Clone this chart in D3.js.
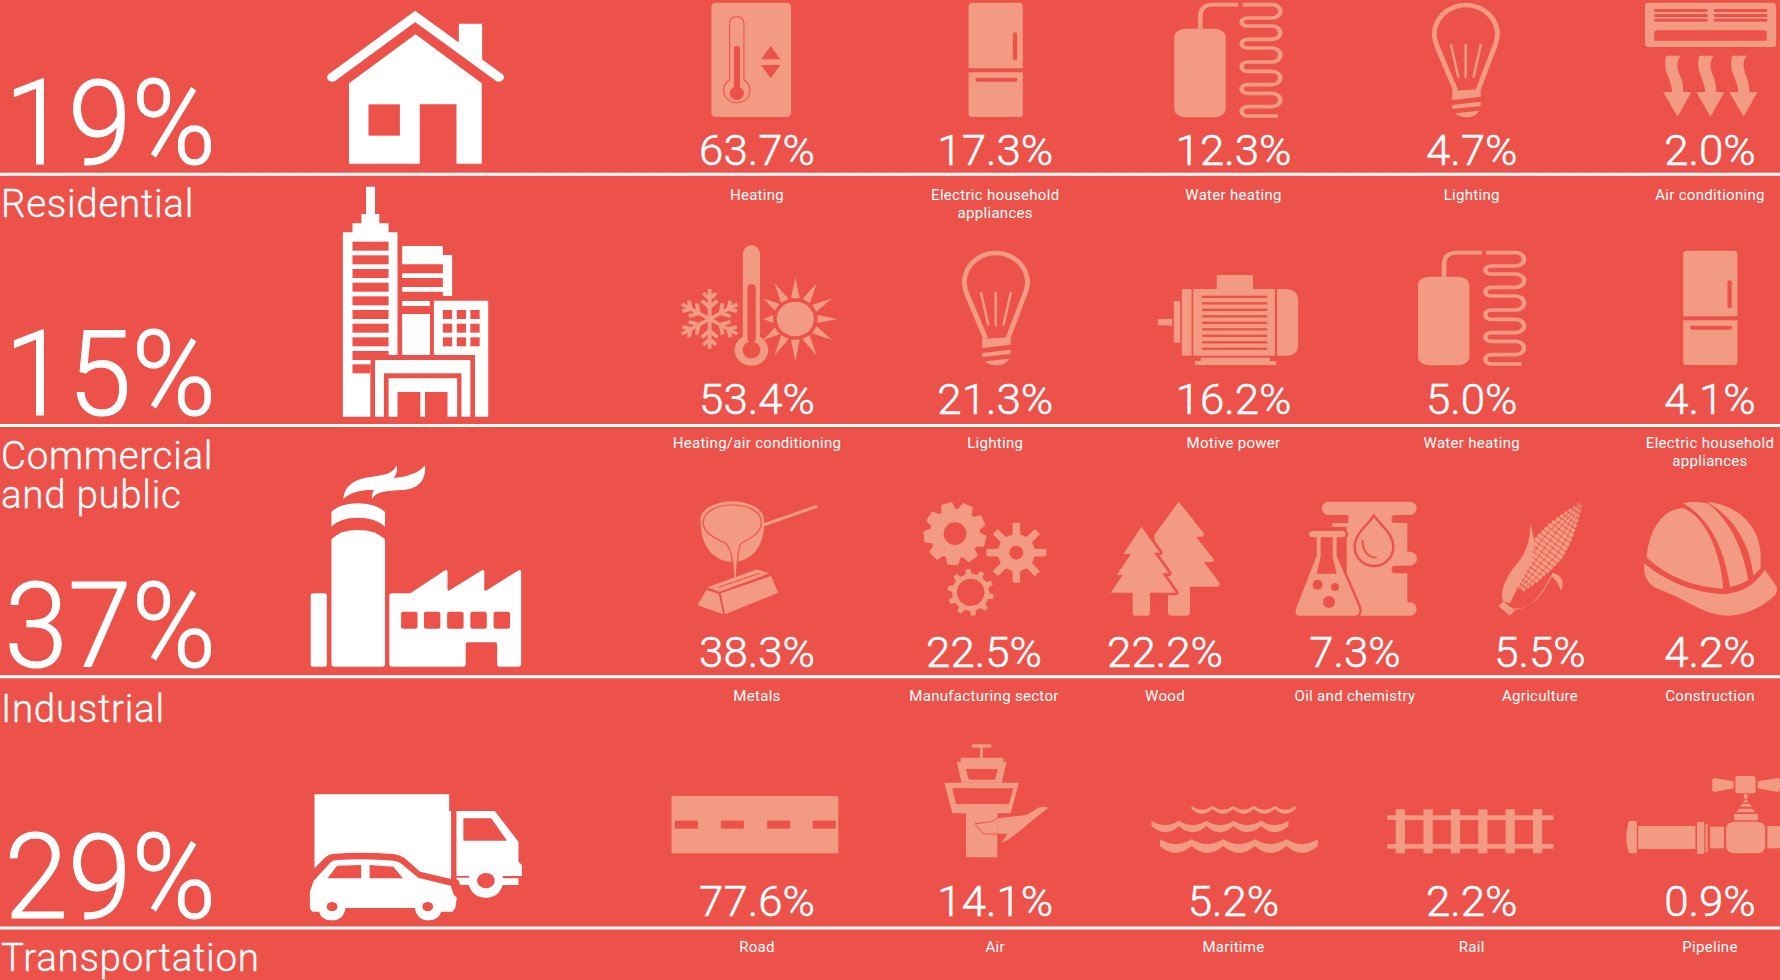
<!DOCTYPE html>
<html>
<head>
<meta charset="utf-8">
<script src="https://cdn.jsdelivr.net/npm/d3@7"></script>
<style>
  body { margin: 0; background: #ec5249; overflow: hidden; }
  text { fill: #fff; font-family: Roboto, sans-serif; }
  .share { font-weight: 300; font-size: 118px; stroke: #fff; stroke-width: 1.2px; }
  .category { font-weight: 300; font-size: 38.5px; letter-spacing: .7px; stroke: #fff; stroke-width: .3px; }
  .value { font-weight: 300; font-size: 43px; stroke: #fff; stroke-width: .5px; }
  .label { font-weight: 400; font-size: 15px; letter-spacing: .3px; }
  .icon { fill: currentColor; }
  .icon .cut { fill: #ec5249; }
  .icon .ln { fill: none; stroke: currentColor; }
  .icon .cutln { fill: none; stroke: #ec5249; }
  .icon .edge { stroke: #ec5249; }
</style>
</head>
<body>
<svg id="chart" width="1780" height="980"></svg>
<script>
const categories = ['Residential', 'Commercial and public', 'Industrial', 'Transportation']
const categoryShares = [19, 15, 37, 29]
const categoryLines = [['Residential'], ['Commercial', 'and public'], ['Industrial'], ['Transportation']]

const residentialLabels = ['Heating', 'Electric household appliances', 'Water heating', 'Lighting', 'Air conditioning']
const residentialValues = [63.7, 17.3, 12.3, 4.7, 2.0]
const commercialLabels = ['Heating/air conditioning', 'Lighting', 'Motive power', 'Water heating', 'Electric household appliances']
const commercialValues = [53.4, 21.3, 16.2, 5.0, 4.1]
const industrialLabels = ['Metals', 'Manufacturing sector', 'Wood', 'Oil and chemistry', 'Agriculture', 'Construction']
const industrialValues = [38.3, 22.5, 22.2, 7.3, 5.5, 4.2]
const transportLabels = ['Road', 'Air', 'Maritime', 'Rail', 'Pipeline']
const transportValues = [77.6, 14.1, 5.2, 2.2, 0.9]

const rowLabels = [residentialLabels, commercialLabels, industrialLabels, transportLabels]
const rowValues = [residentialValues, commercialValues, industrialValues, transportValues]

// layout
const ruleY = d3.scalePoint().domain(categories).range([174.2, 928])
const fiveColumns = d3.scalePoint().domain(d3.range(5)).range([757, 1710])
const sixColumns = d3.scaleOrdinal().domain(d3.range(6)).range([757, 984, 1165, 1355, 1540, 1710])
const valueOffset = [-9, -11, -10, -12]
const labelOffset = [26, 23, 24, 24]
const categoryBaseline = [[217], [469, 508], [722], [971]]

const svg = d3.select('#chart')

svg.selectAll('line.rule')
    .data(categories)
    .enter().append('line')
    .attr('class', 'rule')
    .attr('x1', 0).attr('x2', 1780)
    .attr('y1', d => ruleY(d)).attr('y2', d => ruleY(d))
    .attr('stroke', '#fff').attr('stroke-width', 3)

// big shares, right aligned
svg.selectAll('text.share')
    .data(categories)
    .enter().append('text')
    .attr('class', 'share')
    .attr('text-anchor', 'end')
    .attr('transform', d => `translate(216,${ruleY(d) - 10}) scale(.97,1)`)
    .text((d, i) => categoryShares[i] + '%')

categories.forEach((c, r) => {
    categoryLines[r].forEach((line, l) => {
        svg.append('text')
            .attr('class', 'category')
            .attr('x', 1)
            .attr('y', categoryBaseline[r][l])
            .text(line)
    })
    const col = rowValues[r].length == 6 ? sixColumns : fiveColumns
    rowValues[r].forEach((v, i) => {
        svg.append('text')
            .attr('class', 'value')
            .attr('text-anchor', 'middle')
            .attr('transform', `translate(${col(i)},${ruleY(c) + valueOffset[r]}) scale(1.02,1)`)
            .text(v.toFixed(1) + '%')
        // long labels break in two lines
        const label = rowLabels[r][i]
        const lines = label.startsWith('Electric') ? ['Electric household', 'appliances'] : [label]
        lines.forEach((t, l) => {
            svg.append('text')
                .attr('class', 'label')
                .attr('text-anchor', 'middle')
                .attr('x', col(i))
                .attr('y', ruleY(c) + labelOffset[r] + l * 18)
                .text(t)
        })
    })
})

/* icons: each one is traced in the pixel frame of a crop of the picture */
const frames = {
    a: [0, 0, 2.6133, 3],
    b: [660, 0, 2.8, 3],
    c: [1220, 0, 2.8, 3],
    d: [300, 180, 2.8, 3],
    e: [1120, 240, 2.3758, 3],
    f: [290, 450, 2.8, 3],
    g: [900, 480, 3, 3],
    h: [290, 730, 2.6133, 3],
    i: [1120, 740, 2.3758, 3],
    j: [920, 735, 3, 3]
}

function icon(frame, colour, markup, dx = 0, dy = 0) {
    const [ox, oy, sx, sy] = frames[frame]
    svg.append('g')
        .attr('class', 'icon')
        .attr('color', colour)
        .attr('transform', `translate(${ox + dx},${oy + dy}) scale(${1 / sx},${1 / sy})`)
        .html(markup)
}

// filled shape with a background halo around it, the fill keeps its full size
function outlined(d, w) {
    return `<path class="cutln" stroke-width="${w}" stroke-linejoin="round" d="${d}"/><path d="${d}"/>`
}

function gear(cx, cy, ro, ri, n, w, rot) {
    const step = 2 * Math.PI / n
    const pt = (a, r) => [cx + r * Math.cos(a), cy + r * Math.sin(a)].join(' ')
    const parts = d3.range(n).map(i => {
        const a = rot + i * step
        return [pt(a - step * w * .62, ri), pt(a - step * w * .36, ro), pt(a + step * w * .36, ro), pt(a + step * w * .62, ri)].join(' L')
    })
    return 'M' + parts.join(' L') + 'Z'
}

function wave(x0, x1, n, y, depth, thick) {
    const w = (x1 - x0) / n
    let top = `M${x0} ${y}`, bottom = ''
    d3.range(n).forEach(i => {
        top += ` Q${x0 + w * (i + .5)} ${y + depth * 2} ${x0 + w * (i + 1)} ${y}`
    })
    d3.range(n).forEach(i => {
        const k = n - i
        bottom += ` Q${x0 + w * (k - .5)} ${y + depth * 2 + thick * 1.7} ${x0 + w * (k - 1)} ${y + thick}`
    })
    return `<path d="${top} L${x1} ${y + thick}${bottom} Z"/>`
}

const white = '#fff'
const salmon = '#f39a82'

const fridge = `
  <path d="M864 205 V18 Q864 8 874 8 H1006 Q1016 8 1016 18 V205 Z"/>
  <path d="M864 217 H1016 V341 Q1016 351 1006 351 H874 Q864 351 864 341 Z"/>
  <rect class="cut" x="988" y="97" width="12" height="84" rx="6"/>
  <rect class="cut" x="883" y="233" width="118" height="12" rx="6"/>`

const bulb = `
  <path class="ln" stroke-width="14" d="M660 272 L610 145 C598 115 598 100 602 85 C612 40 650 15 688 15 C726 15 765 40 775 85 C779 100 779 115 767 145 L722 272"/>
  <path d="M650 272 L730 268 V290 L650 300 Z M650 315 L730 305 V318 L650 327 Z M658 340 L726 332 Q715 352 690 352 Q668 352 658 340 Z"/>
  <path class="ln" stroke-width="7" stroke-linecap="round" d="M647 135 L667 230 M688 135 V232 M730 135 L710 230"/>`

const heater = `
  <rect x="708" y="110" width="122" height="266" rx="28" ry="25"/>
  <path class="ln" stroke-width="11" d="M770 110 V72 Q770 38 802 38 H860"/>
  <path class="ln" stroke-width="11" d="M870 38 H940 A20 20 0 0 1 940 78 H882 A14 12 0 0 0 882 102 H940 A20 20 0 0 1 940 142 H882 A14 13 0 0 0 882 168 H940 A20 21 0 0 1 940 210 H882 A14 14 0 0 0 882 238 H940 A20 20 0 0 1 940 278 H882 A14 13 0 0 0 882 304 H940 A20 20 0 0 1 940 344 H882 A14 14 0 0 0 882 372 H954"/>`

// main sector icons
icon('a', white, `
  <path class="ln" stroke-width="26" stroke-linecap="round" d="M868 232 L1085 49 L1304 232"/>
  <path d="M1199 128 V71 H1260 V180 Z"/>
  <path d="M1086 103 L1259 250 V491 H1193 V313 H1097 V491 H912 V250 Z"/>
  <rect class="cut" x="963" y="313" width="82" height="94"/>`)

icon('d', white, `
  <path d="M185 20 H210 V102 H222 V130 H248 V157 H273 V525 H197 V710 H120 V157 H147 V130 H172 V102 H185 Z"/>
  ${[185, 226, 267, 308, 349, 390, 431, 472].map(y => `<rect class="cut" x="147" y="${y}" width="101" height="27"/>`).join('')}
  <path class="cut" d="M147 513 H248 V525 H273 V540 H147 Z"/>
  <rect x="147" y="540" width="50" height="13"/>
  <rect class="cut" x="147" y="553" width="50" height="27"/>
  <path d="M286 198 H400 V225 H426 V348 H400 V335 H286 V321 H400 V294 H286 V280 H400 V253 H286 Z"/>
  <rect x="286" y="363" width="78" height="15"/>
  <rect x="286" y="402" width="78" height="123"/>
  <path d="M375 362 H527 V710 H490 V525 H375 Z"/>
  ${[400, 439, 477].map(x => [390, 431, 472].map(y => `<rect class="cut" x="${x}" y="${y}" width="26" height="27"/>`).join('')).join('')}
  <path d="M210 540 H477 V710 H452 V580 H235 V710 H210 Z"/>
  <path d="M248 595 H440 V710 H413 V636 H350 V710 H337 V636 H273 V710 H248 Z"/>`)

icon('f', white, `
  <rect x="58" y="430" width="45" height="220" rx="6"/>
  <path d="M116 268 Q140 240 190 240 Q240 240 266 268 V642 Q266 650 258 650 H124 Q116 650 116 642 Z"/>
  <path d="M116 186 Q140 160 190 160 Q240 160 266 186 V230 Q240 203 190 203 Q140 203 116 230 Z"/>
  <path d="M150 147 C150 110 180 85 230 80 C265 76 290 70 298 46 C302 60 298 75 290 84 C320 82 360 72 378 46 C382 90 360 118 315 120 C270 122 240 125 230 147 C228 135 232 125 235 120 C200 120 170 125 150 147 Z"/>
  <path d="M278 438 Q278 430 286 430 H337 L432 362 Q441 356 441 366 V418 Q441 425 448 420 L535 362 Q544 356 544 366 V418 Q544 425 552 420 L638 362 Q647 356 647 366 V642 Q647 650 639 650 H586 Q580 650 580 642 V584 Q580 577 572 577 H500 Q492 577 492 584 V642 Q492 650 484 650 H286 Q278 650 278 642 Z"/>
  ${[311, 375, 440, 505, 570].map(x => `<rect class="cut" x="${x}" y="485" width="46" height="51" rx="6"/>`).join('')}`)

icon('h', white, `
  <path d="M64 193 H416 V243 H421 V447 L340 425 L300 385 Q288 375 270 372 Q180 364 112 372 Q98 374 90 385 L64 415 Z"/>
  <path d="M435 243 H535 L597 335 V395 L606 405 V438 H556 V445 H597 V465 H556 Q545 503 512 503 Q478 503 467 465 H445 L440 450 L435 448 V443 H468 V438 H435 Z"/>
  <path class="cut" d="M453 265 H526 L567 332 H453 Z"/>
  <circle class="cut" cx="512" cy="452" r="23"/>
  <path d="M52 485 L62 452 L105 398 Q112 390 122 390 Q200 384 272 392 Q284 394 292 402 L335 443 L420 467 L428 495 L436 503 L432 533 L425 545 H395 Q388 571 360 571 Q333 571 326 534 H145 Q140 571 110 571 Q82 571 76 545 H58 L52 535 Z"/>
  <path class="cut" d="M123 407 L186 405 V445 H98 Z M208 405 L270 410 L295 445 H208 Z"/>
  <circle class="cut" cx="110" cy="530" r="14"/>
  <circle class="cut" cx="360" cy="530" r="14"/>`)

// residential
icon('b', salmon, `
  <rect x="144" y="8" width="223" height="343" rx="12"/>
  <path class="cutln" stroke-width="3" d="M195 240 V70 Q195 50 215 50 Q235 50 235 70 V240 A37 37 0 1 1 195 240 Z"/>
  <rect class="cut" x="207" y="138" width="17" height="142" rx="8"/>
  <circle class="cut" cx="215" cy="280" r="20"/>
  <path class="cut" d="M310 138 L337 178 H283 Z M283 195 H337 L310 235 Z"/>`)
icon('b', salmon, fridge)
icon('e', salmon, heater, -243.7, -248)
icon('c', salmon, bulb)
const acArrow = `M1250 167 L1290 167 C1274 190 1282 210 1291 235 C1297 255 1297 265 1297 276 L1320 276 L1281 350 L1241 276 L1266 276 C1266 260 1258 240 1251 220 C1245 200 1245 180 1250 167 Z`
icon('c', salmon, `
  <rect x="1190" y="8" width="367" height="133" rx="10"/>
  ${[27, 42, 56].map(y => `<rect class="cut" x="1216" y="${y}" width="149" height="9"/><rect class="cut" x="1383" y="${y}" width="149" height="9"/>`).join('')}
  <path class="cut" d="M1216 122 V99 Q1216 91 1224 91 H1523 Q1531 91 1531 99 V122 Z"/>
  <path d="${acArrow}"/>
  <path transform="translate(92.5,0)" d="${acArrow}"/>
  <path transform="translate(185,0)" d="${acArrow}"/>`)

// commercial
const sunTips = [[1387, 292], [1447, 310], [1490, 355], [1505, 417], [1490, 480], [1447, 527], [1387, 545], [1328, 527], [1297, 480], [1297, 417], [1297, 355], [1328, 308]]
const sunRays = sunTips.map(([x, y]) => {
    const dx = x - 1387, dy = y - 417, len = Math.hypot(dx, dy)
    const ux = dx / len, uy = dy / len, bx = 1387 + ux * 62, by = 417 + uy * 62
    return `<path d="M${x} ${y} L${bx - uy * 12} ${by + ux * 12} L${bx + uy * 12} ${by - ux * 12} Z"/>`
}).join('')
const flakeArm = d3.range(6).map(i => `<path class="ln" transform="translate(1147,417) rotate(${i * 60})" stroke-width="11" d="M0 0 V-90 M0 -35 L-22 -55 M0 -35 L22 -55 M0 -60 L-18 -78 M0 -60 L18 -78"/>`).join('')
icon('d', salmon, `
  ${flakeArm}
  ${sunRays}
  <circle cx="1387" cy="417" r="52"/>
  <path d="M1240 470 V220 A24 24 0 0 1 1288 220 V470 A47 47 0 1 1 1240 470 Z"/>
  <rect class="cut" x="1253" y="313" width="23" height="175" rx="11"/>
  <circle class="cut" cx="1264" cy="510" r="25"/>`)
icon('c', salmon, bulb, -470, 248)
icon('e', salmon, `
  <path d="M90 238 L124 236 V257 L90 255 Z"/>
  <rect x="128" y="183" width="15" height="125"/>
  <rect x="147" y="147" width="23" height="200"/>
  <rect x="174" y="147" width="194" height="200"/>
  <rect x="230" y="105" width="86" height="42"/>
  ${d3.range(9).map(i => `<rect class="cut" x="195" y="${167 + i * 19.5}" width="155" height="7"/>`).join('')}
  <path d="M373 147 H395 Q423 150 423 180 V315 Q423 347 395 347 H373 Z"/>
  <rect x="192" y="353" width="164" height="10"/>
  <rect x="178" y="363" width="193" height="12"/>`)
icon('e', salmon, heater)
icon('b', salmon, fridge, 714.6, 248)

// industrial
icon('f', salmon, `
  <path class="ln" stroke-width="9" stroke-linecap="round" d="M1325 225 L1473 170"/>
  <path d="M1150 215 C1150 300 1195 335 1238 335 C1285 335 1328 300 1328 215 Z"/>
  <ellipse cx="1238" cy="208" rx="89" ry="54"/>
  <path class="edge" stroke-width="3.5" d="M1157 218 C1157 185 1195 165 1238 165 C1285 165 1320 185 1320 218 C1320 250 1285 268 1265 278 C1255 285 1252 330 1250 385 H1243 C1241 330 1235 290 1218 278 C1195 268 1157 250 1157 218 Z"/>
  <path d="M1168 412 L1308 358 L1343 370 L1202 425 Z"/>
  <path class="ln cutln" stroke-width="3" d="M1200 412 L1315 370"/>
  <path d="M1206 430 L1347 378 L1367 428 L1218 493 Z"/>
  <path d="M1166 420 L1200 431 L1213 493 L1141 466 Z"/>`)

icon('g', salmon, `
  <path stroke="${salmon}" stroke-width="6" stroke-linejoin="round" d="${gear(165, 161, 92, 72, 9, .62, .25)}"/>
  <circle class="cut" cx="165" cy="161" r="34"/>
  <path d="${gear(349, 218, 89, 55, 8, .38, 0)}" stroke="${salmon}" stroke-width="3" stroke-linejoin="round"/>
  <circle class="cut" cx="349" cy="218" r="21"/>
  <path d="${gear(212, 337, 70, 56, 10, .42, .2)}"/>
  <circle class="cut" cx="212" cy="337" r="41"/>
  <path d="M836 65 L910 158 Q915 170 903 170 H888 L940 236 Q945 246 933 246 H912 L958 308 Q963 320 950 320 H870 V397 Q870 407 860 407 H814 Q804 407 804 397 V340 H770 L763 165 Z"/>
  ${outlined('M724 140 L780 218 H762 L807 280 H787 L828 338 H750 V400 Q750 407 743 407 H705 Q698 407 698 400 V338 H632 L668 285 H650 L693 222 H670 Z', 16)}
  <path d="M1282 65 H1530 A20 20 0 0 1 1530 105 H1522 V215 H1530 A21 21 0 0 1 1530 257 H1522 V367 H1530 A20 20 0 0 1 1530 407 H1340 V140 H1297 V129 H1345 V105 H1290 A20 20 0 0 1 1282 65 Z"/>
  <rect class="cut" x="1475" y="105" width="60" height="24" rx="10"/>
  <rect class="cut" x="1475" y="257" width="60" height="23" rx="10"/>
  <path class="edge" stroke-width="7" d="M1422 106 C1440 135 1480 160 1480 200 A58 58 0 0 1 1364 200 C1364 160 1404 135 1422 106 Z"/>
  <path class="ln cutln" stroke-width="6" d="M1388 180 C1385 215 1410 235 1430 232"/>
  ${outlined('M1240 153 H1325 Q1337 153 1337 163 Q1337 172 1325 172 H1310 V228 L1376 380 Q1384 407 1360 407 H1200 Q1180 407 1190 380 L1250 228 V172 H1240 Q1227 172 1227 163 Q1227 153 1240 153 Z', 14)}
  <path class="cut" d="M1262 172 H1298 V230 L1310 281 H1250 L1262 230 Z"/>
  <circle class="cut" cx="1253" cy="314" r="15"/>
  <circle class="cut" cx="1305" cy="321" r="12"/>
  <circle class="cut" cx="1287" cy="366" r="18"/>`)

// corn and hard hat stay in frame g, further along x
const cobWidth = [[.12, 18], [.25, 34], [.4, 46], [.55, 52], [.7, 44], [.85, 28], [1, 8]]
const cob = d3.range(2, 24).map(i => {
    const t = i / 24 + .04, y = -t * 345
    const hw = d3.scaleLinear().domain(cobWidth.map(d => d[0])).range(cobWidth.map(d => d[1])).clamp(true)(t)
    const k = 5, w = 2 * hw / k
    return d3.range(k).map(j => `<rect x="${-hw + j * w + .6}" y="${y}" width="${w - 1.4}" height="12.4" rx="3"/>`).join('')
}).join('')
icon('g', salmon, `
  <g transform="translate(1840,350) rotate(36)">${cob}</g>
  <path d="M1795 378 L1810 365 L1845 390 L1830 407 Z"/>
  <path d="M1810 365 C1795 330 1825 280 1860 240 C1885 205 1892 165 1890 130 C1910 190 1905 230 1880 270 C1860 305 1845 340 1830 370 Z"/>
  <path d="M1840 385 C1890 392 1920 350 1958 278 C1985 285 1995 305 1983 333 C1975 310 1965 295 1955 290 C1930 340 1900 382 1845 390 Z"/>`)

icon('g', salmon, `
  <path d="M2240 232 C2245 150 2290 85 2350 85 C2415 110 2460 210 2470 326 C2380 322 2300 290 2240 232 Z"/>
  <path d="M2350 70 C2385 62 2415 68 2425 72 C2490 120 2530 210 2545 300 Q2520 315 2490 322 C2475 210 2430 115 2350 70 Z"/>
  <path d="M2420 66 C2500 70 2582 130 2582 230 V265 L2560 287 C2550 190 2500 110 2420 66 Z"/>
  <path d="M2233 250 C2290 300 2380 340 2470 342 C2520 340 2560 320 2595 270 L2630 320 Q2635 340 2615 355 C2580 385 2530 407 2485 407 C2430 407 2380 375 2330 350 L2260 320 C2240 305 2228 280 2233 250 Z"/>`)

// transport
icon('h', salmon, `
  <rect x="997" y="198" width="436" height="172"/>
  ${[1006, 1126, 1247, 1366].map(x => `<rect class="cut" x="${x}" y="272" width="60" height="24"/>`).join('')}`)

icon('j', salmon, `
  <path d="M155 33 Q155 28 160 28 H210 Q215 28 215 33 Q215 38 210 38 H188 V68 H180 V38 H160 Q155 38 155 33 Z"/>
  <path d="M122 68 H250 V80 H260 L245 143 H125 L110 80 H122 Z"/>
  <path class="cut" d="M137 102 H233 L225 134 H147 Z"/>
  <path d="M73 143 H297 L272 235 H232 V367 H138 V235 H97 Z"/>
  <path class="cut" d="M97 160 H280 L267 207 H108 Z"/>
  <path class="cutln" stroke-width="3" d="M232 250 L215 260 L165 266 L190 297 H262"/>
  <path d="M232 250 L320 240 L358 217 Q385 213 383 220 L330 262 L300 287 L268 312 L245 323 L262 296 H232 Z"/>`)

icon('i', salmon, `
  ${wave(170, 417, 5, 198, 11, 9)}
  ${wave(75, 400, 5, 242, 13, 16)}
  ${wave(95, 470, 5, 298, 14, 20)}
  ${[655, 721, 786, 851, 916, 981].map(x => `<rect x="${x}" y="208" width="22" height="132"/>`).join('')}
  <rect x="635" y="226" width="395" height="14"/>
  <rect x="635" y="312" width="395" height="14"/>
  <path d="M1210 243 H1228 V340 H1210 Q1203 320 1203 292 Q1203 262 1210 243 Z"/>
  <rect x="1231" y="258" width="136" height="69"/>
  <rect x="1371" y="246" width="17" height="96"/>
  <rect x="1391" y="252" width="5" height="84"/>
  <rect x="1402" y="260" width="33" height="65"/>
  <rect x="1440" y="245" width="93" height="95" rx="20"/>
  <rect x="1538" y="258" width="40" height="67"/>
  <rect x="1459" y="222" width="57" height="19"/>
  <path d="M1465 217 L1471 206 H1503 L1509 217 Z M1473 200 L1478 191 H1496 L1501 200 Z M1480 187 L1487 177 L1494 187 Z"/>
  <rect x="1482" y="163" width="9" height="13"/>
  <rect x="1462" y="108" width="48" height="52" rx="6"/>
  <path d="M1412 114 L1458 124 V145 L1412 156 Q1407 155 1407 150 V120 Q1407 115 1412 114 Z"/>
  <path d="M1562 114 L1515 124 V145 L1562 156 Q1568 155 1568 150 V120 Q1568 115 1562 114 Z"/>`)
</script>
</body>
</html>
